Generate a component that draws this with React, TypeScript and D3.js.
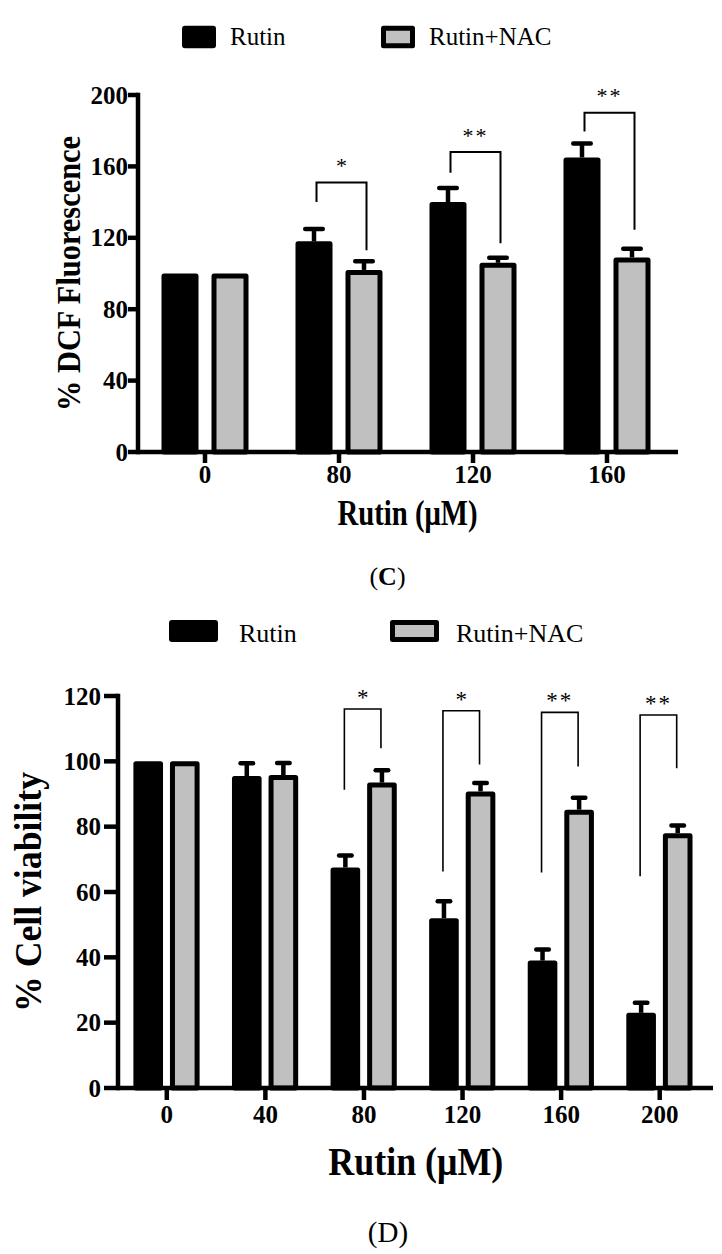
import React from "react";
import * as d3 from "d3";

// ---------- data ----------
const seriesNames = ["Rutin", "Rutin+NAC"];

// Panel C: % DCF Fluorescence
const cCategories = ["0", "80", "120", "160"];
const cRutin = [100, 118, 140, 165];
const cRutinErr = [0, 8, 9, 9];
const cRutinNac = [100, 102, 106, 109];
const cRutinNacErr = [0, 6, 4, 6];
const cYTicks = [0, 40, 80, 120, 160, 200];
const cSignificance = ["", "*", "**", "**"];
const cBracketTop = [NaN, 151, 168, 190];
const cBracketLeftEnd = [NaN, 140, 156.5, 179.5];
const cBracketRightEnd = [NaN, 113, 117, 124.5];

// Panel D: % Cell viability
const dCategories = ["0", "40", "80", "120", "160", "200"];
const dRutin = [100, 95.5, 67.5, 52, 39, 23];
const dRutinErr = [0, 4.5, 4.3, 5.8, 4, 3.7];
const dRutinNac = [100, 95.8, 93.5, 90.8, 85.2, 78];
const dRutinNacErr = [0, 4.3, 4.4, 3.2, 4.3, 3];
const dYTicks = [0, 20, 40, 60, 80, 100, 120];
const dSignificance = ["", "", "*", "*", "**", "**"];
const dBracketTop = [NaN, NaN, 116, 115.5, 115, 114.2];
const dBracketLeftEnd = [NaN, NaN, 91.3, 66.3, 66, 64.8];
const dBracketRightEnd = [NaN, NaN, 104, 99, 98.4, 97.9];

// ---------- style ----------
const FONT = "'Liberation Serif','Times New Roman',Times,serif";
const GRAY = "#c0c0c0";
const AXW = 4.5;
const BARSW = 5;

type Geom = {
  axisX: number; xEnd: number; y0: number; yTop: number;
  xRange: [number, number]; subRange: [number, number]; subPad: number;
  capW: number; yTickLen: number; xTickLen: number; yLabelEnd: number;
  yTickFont: number; xTickFont: number; xLabelBase: number;
  bracketDx: number; bracketW: number; starFont: number; starOff: number;
  xTitle: [number, number, number, number]; yTitle: [number, number, number, number];
  yTitleText: string;
};

function Panel(props: {
  cats: string[]; a: number[]; aErr: number[]; b: number[]; bErr: number[];
  yTicks: number[]; sig: string[]; bTop: number[]; bLeft: number[]; bRight: number[]; g: Geom;
}) {
  const { cats, a, aErr, b, bErr, yTicks, sig, bTop, bLeft, bRight, g } = props;
  const yMax = d3.max(yTicks) as number;
  const y = d3.scaleLinear().domain([0, yMax]).range([g.y0, g.yTop]);
  const x = d3.scalePoint<string>().domain(cats).range(g.xRange).padding(0.5);
  const sub = d3.scaleBand<string>().domain(["a", "b"]).range(g.subRange).paddingInner(g.subPad);
  const bw = sub.bandwidth();

  const bar = (cx0: number, v: number, fill: string, key: string) => (
    <rect key={key} x={cx0 + BARSW / 2} y={y(v) + BARSW / 2} width={bw - BARSW}
      height={g.y0 - y(v) - BARSW / 2} fill={fill} stroke="#000" strokeWidth={BARSW}
      strokeLinejoin="round" />
  );
  const err = (cx: number, v: number, e: number, key: string) => {
    if (!(e > 0)) return null;
    const yc = y(v + e) + 2;
    return (
      <g key={key} stroke="#000" strokeWidth={AXW}>
        <line x1={cx} x2={cx} y1={y(v)} y2={yc} />
        <line x1={cx - (g.capW - AXW) / 2} x2={cx + (g.capW - AXW) / 2} y1={yc} y2={yc} strokeLinecap="round" />
      </g>
    );
  };

  return (
    <g>
      {cats.map((c, i) => {
        const base = x(c) as number;
        const xa = base + (sub("a") as number);
        const xb = base + (sub("b") as number);
        return (
          <g key={c}>
            {bar(xa, a[i], "#000", "ba")}
            {bar(xb, b[i], GRAY, "bb")}
            {err(xa + bw / 2, a[i], aErr[i], "ea")}
            {err(xb + bw / 2, b[i], bErr[i], "eb")}
          </g>
        );
      })}
      {cats.map((c, i) => {
        if (!sig[i]) return null;
        const base = x(c) as number;
        const lx = base + (sub("a") as number) + bw / 2 + g.bracketDx;
        const rx = base + (sub("b") as number) + bw / 2 + g.bracketDx;
        return (
          <g key={"s" + c}>
            <path d={`M${lx},${y(bLeft[i])}V${y(bTop[i])}H${rx}V${y(bRight[i])}`}
              fill="none" stroke="#000" strokeWidth={g.bracketW} />
            <text x={(lx + rx) / 2} y={y(bTop[i]) - g.starOff} textAnchor="middle"
              fontFamily={FONT} fontSize={g.starFont} letterSpacing={sig[i].length > 1 ? 2 : 0}>{sig[i]}</text>
          </g>
        );
      })}
      <g stroke="#000" strokeWidth={AXW}>
        <line x1={g.axisX} x2={g.axisX} y1={g.y0 + AXW / 2} y2={y(yMax) - AXW / 2} />
        <line x1={g.axisX} x2={g.xEnd} y1={g.y0} y2={g.y0} />
        {yTicks.map((t) => (
          <line key={t} x1={g.axisX - g.yTickLen} x2={g.axisX} y1={y(t)} y2={y(t)} />
        ))}
        {cats.map((c) => (
          <line key={c} x1={x(c)} x2={x(c)} y1={g.y0} y2={g.y0 + g.xTickLen} />
        ))}
      </g>
      {yTicks.map((t) => (
        <text key={t} x={g.yLabelEnd} y={y(t) + 0.34 * g.yTickFont} textAnchor="end"
          fontFamily={FONT} fontWeight="bold" fontSize={g.yTickFont}>{t}</text>
      ))}
      {cats.map((c) => (
        <text key={c} x={x(c)} y={g.xLabelBase} textAnchor="middle"
          fontFamily={FONT} fontWeight="bold" fontSize={g.xTickFont}>{c}</text>
      ))}
      <text x={g.xTitle[0]} y={g.xTitle[1]} textAnchor="middle" fontFamily={FONT} fontWeight="bold"
        fontSize={g.xTitle[2]} textLength={g.xTitle[3]} lengthAdjust="spacingAndGlyphs">Rutin (μM)</text>
      <text transform={`translate(${g.yTitle[0]},${g.yTitle[1]}) rotate(-90)`} textAnchor="middle"
        fontFamily={FONT} fontWeight="bold" fontSize={g.yTitle[2]} textLength={g.yTitle[3]}
        lengthAdjust="spacingAndGlyphs">{g.yTitleText}</text>
    </g>
  );
}

function Legend(props: { bx: number; gx: number; y: number; w: number; h: number; tx: number[]; base: number; size: number }) {
  const { bx, gx, y, w, h, tx, base, size } = props;
  return (
    <g>
      <rect x={bx} y={y} width={w} height={h} rx={3} fill="#000" />
      <rect x={gx + 2.5} y={y + 2.5} width={w - 5} height={h - 5} fill={GRAY} stroke="#000" strokeWidth={5} strokeLinejoin="round" />
      {seriesNames.map((s, i) => (
        <text key={s} x={tx[i]} y={base} fontFamily={FONT} fontSize={size}>{s}</text>
      ))}
    </g>
  );
}

const geomC: Geom = {
  axisX: 138, xEnd: 678, y0: 452, yTop: 95,
  xRange: [138, 674], subRange: [-43.5, 43.5], subPad: 0.26,
  capW: 22, yTickLen: 10, xTickLen: 11, yLabelEnd: 128,
  yTickFont: 25, xTickFont: 25, xLabelBase: 483,
  bracketDx: 2.5, bracketW: 2, starFont: 22, starOff: 9.5,
  xTitle: [407.5, 525, 35, 140], yTitle: [80, 273.5, 34, 275],
  yTitleText: "% DCF Fluorescence",
};

const geomD: Geom = {
  axisX: 118, xEnd: 713, y0: 1088, yTop: 696,
  xRange: [117.5, 709], subRange: [-33.4, 32.8], subPad: 0.19,
  capW: 17, yTickLen: 14, xTickLen: 12, yLabelEnd: 101,
  yTickFont: 25, xTickFont: 25, xLabelBase: 1123,
  bracketDx: -1, bracketW: 1.6, starFont: 23, starOff: 4,
  xTitle: [415.8, 1175, 40, 175], yTitle: [41, 892, 38, 240],
  yTitleText: "% Cell viability",
};

export default function App() {
  return (
    <svg width={722} height={1254} style={{ position: "absolute", left: 0, top: 0, background: "#fff" }}>
      <rect width={722} height={1254} fill="#fff" />
      <Legend bx={182} gx={381} y={25.7} w={34} h={22.6} tx={[230, 429]} base={45} size={25} />
      <Panel cats={cCategories} a={cRutin} aErr={cRutinErr} b={cRutinNac} bErr={cRutinNacErr}
        yTicks={cYTicks} sig={cSignificance} bTop={cBracketTop} bLeft={cBracketLeftEnd} bRight={cBracketRightEnd} g={geomC} />
      <text x={387.5} y={585} textAnchor="middle" fontFamily={FONT} fontSize={26}>
        (<tspan fontWeight="bold">C</tspan>)
      </text>

      <Legend bx={169} gx={390} y={620} w={49} h={22} tx={[239, 456]} base={642} size={26} />
      <Panel cats={dCategories} a={dRutin} aErr={dRutinErr} b={dRutinNac} bErr={dRutinNacErr}
        yTicks={dYTicks} sig={dSignificance} bTop={dBracketTop} bLeft={dBracketLeftEnd} bRight={dBracketRightEnd} g={geomD} />
      <text x={388} y={1242} textAnchor="middle" fontFamily={FONT} fontSize={29}>(D)</text>
    </svg>
  );
}
